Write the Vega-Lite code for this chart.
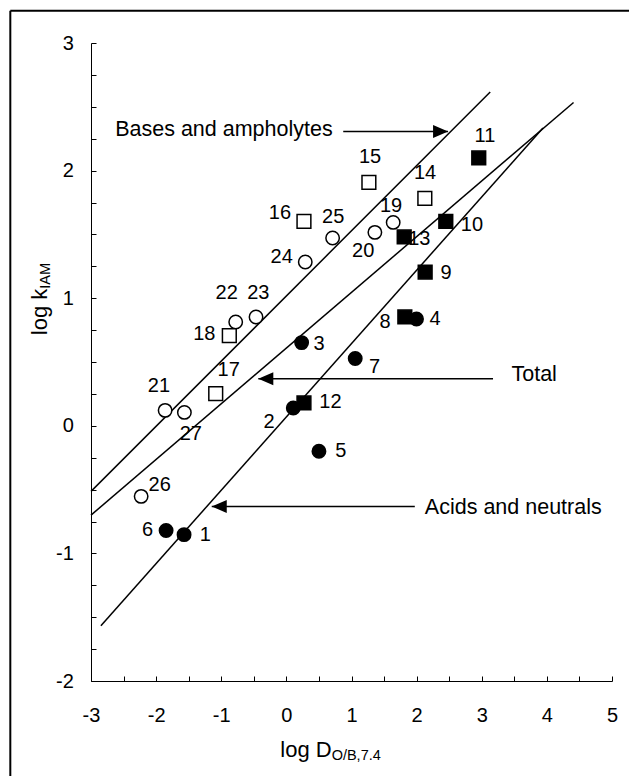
{
  "$schema": "https://vega.github.io/schema/vega-lite/v6.json",
  "width": 521,
  "height": 638,
  "autosize": {"type": "none"},
  "padding": {"left": 91, "top": 43, "right": 17, "bottom": 95},
  "background": "white",
  "config": {
    "view": {"stroke": null},
    "axis": {"grid": false, "title": null, "labelFont": "Liberation Sans", "labelFontSize": 20, "labelColor": "black", "domainColor": "black", "tickColor": "black", "domainWidth": 1, "tickWidth": 1, "labelOverlap": false, "labelFlush": false},
    "text": {"font": "Liberation Sans", "color": "black"}
  },
  "datasets": {
    "points": [
      {"n": "1", "cls": "A", "x": -1.571, "y": -0.853},
      {"n": "2", "cls": "A", "x": 0.106, "y": 0.139},
      {"n": "3", "cls": "A", "x": 0.234, "y": 0.652},
      {"n": "4", "cls": "A", "x": 1.998, "y": 0.837},
      {"n": "5", "cls": "A", "x": 0.5, "y": -0.2},
      {"n": "6", "cls": "A", "x": -1.847, "y": -0.82},
      {"n": "7", "cls": "A", "x": 1.057, "y": 0.528},
      {"n": "8", "cls": "N", "x": 1.819, "y": 0.853},
      {"n": "9", "cls": "N", "x": 2.131, "y": 1.205},
      {"n": "10", "cls": "N", "x": 2.448, "y": 1.602},
      {"n": "11", "cls": "N", "x": 2.954, "y": 2.099},
      {"n": "12", "cls": "N", "x": 0.27, "y": 0.179},
      {"n": "13", "cls": "N", "x": 1.809, "y": 1.48},
      {"n": "14", "cls": "Z", "x": 2.126, "y": 1.782},
      {"n": "15", "cls": "Z", "x": 1.267, "y": 1.908},
      {"n": "16", "cls": "Z", "x": 0.27, "y": 1.602},
      {"n": "17", "cls": "Z", "x": -1.085, "y": 0.252},
      {"n": "18", "cls": "Z", "x": -0.876, "y": 0.706},
      {"n": "19", "cls": "B", "x": 1.64, "y": 1.594},
      {"n": "20", "cls": "B", "x": 1.359, "y": 1.516},
      {"n": "21", "cls": "B", "x": -1.862, "y": 0.121},
      {"n": "22", "cls": "B", "x": -0.778, "y": 0.813},
      {"n": "23", "cls": "B", "x": -0.466, "y": 0.853},
      {"n": "24", "cls": "B", "x": 0.29, "y": 1.284},
      {"n": "25", "cls": "B", "x": 0.71, "y": 1.472},
      {"n": "26", "cls": "B", "x": -2.23, "y": -0.553},
      {"n": "27", "cls": "B", "x": -1.566, "y": 0.105}
    ],
    "labels": [
      {"n": "1", "x": -1.244, "y": -0.853},
      {"n": "2", "x": -0.264, "y": 0.028},
      {"n": "3", "x": 0.503, "y": 0.639},
      {"n": "4", "x": 2.282, "y": 0.834},
      {"n": "5", "x": 0.834, "y": -0.201},
      {"n": "6", "x": -2.13, "y": -0.818},
      {"n": "7", "x": 1.356, "y": 0.457},
      {"n": "8", "x": 1.517, "y": 0.812},
      {"n": "9", "x": 2.452, "y": 1.201},
      {"n": "10", "x": 2.85, "y": 1.574},
      {"n": "11", "x": 3.049, "y": 2.275},
      {"n": "12", "x": 0.676, "y": 0.185},
      {"n": "13", "x": 2.041, "y": 1.461},
      {"n": "14", "x": 2.129, "y": 1.982},
      {"n": "15", "x": 1.285, "y": 2.11},
      {"n": "16", "x": -0.098, "y": 1.664},
      {"n": "17", "x": -0.885, "y": 0.436},
      {"n": "18", "x": -1.261, "y": 0.716},
      {"n": "19", "x": 1.607, "y": 1.719},
      {"n": "20", "x": 1.179, "y": 1.367},
      {"n": "21", "x": -1.957, "y": 0.309},
      {"n": "22", "x": -0.916, "y": 1.037},
      {"n": "23", "x": -0.431, "y": 1.041},
      {"n": "24", "x": -0.072, "y": 1.319},
      {"n": "25", "x": 0.719, "y": 1.635},
      {"n": "26", "x": -1.946, "y": -0.466},
      {"n": "27", "x": -1.468, "y": -0.066}
    ],
    "fits": [
      {"line": "Bases and ampholytes", "x": -3, "y": -0.514},
      {"line": "Bases and ampholytes", "x": 3.13, "y": 2.616},
      {"line": "Total", "x": -3, "y": -0.7},
      {"line": "Total", "x": 4.41, "y": 2.534},
      {"line": "Acids and neutrals", "x": -2.848, "y": -1.567},
      {"line": "Acids and neutrals", "x": 3.94, "y": 2.334}
    ],
    "arrows": [
      {"t": "Bases and ampholytes", "tx": -2.629, "ty": 2.268, "x": 0.873, "x2": 2.483, "y": 2.307, "dir": "right"},
      {"t": "Total", "tx": 3.456, "ty": 0.348, "x": -0.431, "x2": 3.173, "y": 0.369, "dir": "left"},
      {"t": "Acids and neutrals", "tx": 2.126, "ty": -0.691, "x": -1.146, "x2": 1.972, "y": -0.632, "dir": "left"}
    ],
    "frame": [
      {"x": -4.239, "y": 3.253, "x2": 5.4, "y2": 3.253},
      {"x": -4.239, "y": 3.253, "x2": -4.239, "y2": -2.8}
    ]
  },
  "encoding": {
    "x": {
      "field": "x", "type": "quantitative",
      "scale": {"domain": [-3, 5], "nice": false, "zero": false},
      "axis": {"values": [-3, -2.5, -2, -1.5, -1, -0.5, 0, 0.5, 1, 1.5, 2, 2.5, 3, 3.5, 4, 4.5, 5], "labelExpr": "datum.value % 1 == 0 ? '' + datum.value : ''", "tickSize": -5, "labelPadding": 29}
    },
    "y": {
      "field": "y", "type": "quantitative",
      "scale": {"domain": [-2, 3], "nice": false, "zero": false},
      "axis": {"values": [-2, -1.75, -1.5, -1.25, -1, -0.75, -0.5, -0.25, 0, 0.25, 0.5, 0.75, 1, 1.25, 1.5, 1.75, 2, 2.25, 2.5, 2.75, 3], "labelExpr": "datum.value % 1 == 0 ? '' + datum.value : ''", "tickSize": -5, "labelPadding": 22.7}
    }
  },
  "layer": [
    {
      "data": {"name": "frame"},
      "mark": {"type": "rule", "color": "black", "strokeWidth": 2},
      "encoding": {"x2": {"field": "x2"}, "y2": {"field": "y2"}}
    },
    {
      "data": {"name": "fits"},
      "mark": {"type": "line", "color": "black", "strokeWidth": 1.5},
      "encoding": {"detail": {"field": "line"}}
    },
    {
      "data": {"name": "arrows"},
      "mark": {"type": "rule", "color": "black", "strokeWidth": 1.5},
      "encoding": {"x2": {"field": "x2"}}
    },
    {
      "data": {"name": "arrows"},
      "transform": [{"filter": "datum.dir == 'right'"}],
      "mark": {"type": "point", "shape": "M0,0L-2,-0.87L-2,0.87Z", "filled": true, "color": "black", "opacity": 1, "size": 225},
      "encoding": {"x": {"field": "x2", "type": "quantitative"}}
    },
    {
      "data": {"name": "arrows"},
      "transform": [{"filter": "datum.dir == 'left'"}],
      "mark": {"type": "point", "shape": "M0,0L2,-0.87L2,0.87Z", "filled": true, "color": "black", "opacity": 1, "size": 225}
    },
    {
      "data": {"name": "arrows"},
      "mark": {"type": "text", "align": "left", "baseline": "alphabetic", "fontSize": 21.5},
      "encoding": {"x": {"field": "tx", "type": "quantitative"}, "y": {"field": "ty", "type": "quantitative"}, "text": {"field": "t"}}
    },
    {
      "data": {"name": "labels"},
      "mark": {"type": "text", "align": "center", "baseline": "middle", "fontSize": 20},
      "encoding": {"text": {"field": "n"}}
    },
    {
      "data": {"values": [{"t": "log D", "x": 0.695, "y": -2.596}]},
      "mark": {"type": "text", "align": "right", "baseline": "alphabetic", "fontSize": 22},
      "encoding": {"text": {"field": "t"}}
    },
    {
      "data": {"values": [{"t": "O/B,7.4", "x": 0.695, "y": -2.596}]},
      "mark": {"type": "text", "align": "left", "baseline": "alphabetic", "fontSize": 14.5, "dy": 3},
      "encoding": {"text": {"field": "t"}}
    },
    {
      "data": {"values": [{"t": "log k", "x": -3.672, "y": 1.074}]},
      "mark": {"type": "text", "align": "right", "baseline": "alphabetic", "fontSize": 22, "angle": 270},
      "encoding": {"text": {"field": "t"}}
    },
    {
      "data": {"values": [{"t": "IAM", "x": -3.672, "y": 1.074}]},
      "mark": {"type": "text", "align": "left", "baseline": "alphabetic", "fontSize": 14.5, "angle": 270, "dy": 3},
      "encoding": {"text": {"field": "t"}}
    },
    {
      "data": {"name": "points"},
      "transform": [{"filter": "datum.cls == 'A' || datum.cls == 'B'"}],
      "mark": {"type": "point", "shape": "circle", "filled": true, "stroke": "black", "strokeWidth": 1.5, "opacity": 1, "size": 180},
      "encoding": {"fill": {"field": "cls", "type": "nominal", "scale": {"domain": ["A", "N", "Z", "B"], "range": ["black", "black", "white", "white"]}, "legend": null}}
    },
    {
      "data": {"name": "points"},
      "transform": [{"filter": "datum.cls == 'N' || datum.cls == 'Z'"}],
      "mark": {"type": "point", "shape": "square", "filled": true, "stroke": "black", "strokeWidth": 1.5, "opacity": 1, "size": 190},
      "encoding": {"fill": {"field": "cls", "type": "nominal", "scale": {"domain": ["A", "N", "Z", "B"], "range": ["black", "black", "white", "white"]}, "legend": null}}
    }
  ]
}
